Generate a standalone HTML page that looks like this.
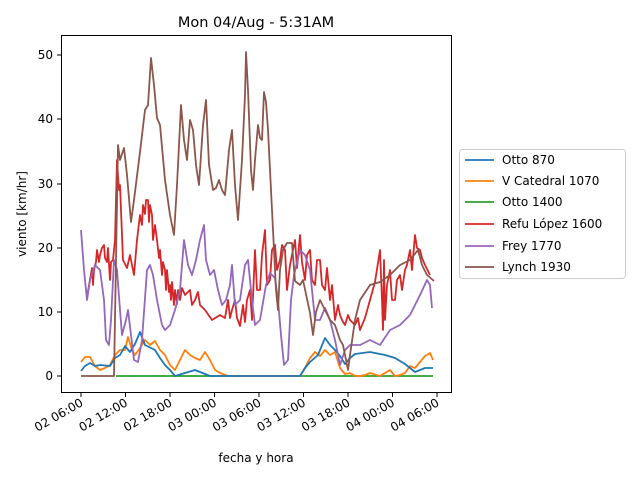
<!DOCTYPE html>
<html><head><meta charset="utf-8"><style>body{margin:0;background:#fff}svg{display:block;font-family:"DejaVu Sans","Liberation Sans",sans-serif}</style></head><body>
<svg width="640" height="480" viewBox="0 0 640 480">
<rect width="640" height="480" fill="#fff"/>
<text x="256" y="27" font-size="14.5" text-anchor="middle">Mon 04/Aug - 5:31AM</text>
<g fill="none" stroke-width="1.8" stroke-linejoin="round">
<polyline stroke="#2ca02c" points="116,376 433,376"/>
<polyline stroke="#ff7f0e" points="81,362 85,357 90,357 95,366 100,370 105,368 110,365 115,355 120,350 125,350 128,337 132,350 135,355 140,348 145,340 150,345 155,341 160,350 165,355 170,365 175,370 180,360 185,350 190,355 195,358 200,360 205,352 210,360 215,370 220,373 228,376 300,376 305,368 310,358 315,352 320,356 325,350 330,355 335,352 340,368 345,374 350,373 355,376 360,376 365,375 370,373 380,376 390,370 395,376 400,375 405,373 410,366 415,368 420,362 425,356 430,353 433,360"/>
<polyline stroke="#1f77b4" points="81,371 85,366 90,363 95,366 100,365 110,366 115,358 120,355 125,346 130,352 135,344 140,332 145,345 155,350 160,358 165,365 170,370 175,376 185,373 195,370 200,372 210,376 300,376 305,368 310,362 318,355 325,338 330,345 335,350 340,356 345,364 350,358 355,354 370,352 385,355 395,358 405,364 415,372 425,368 433,368"/>
<polyline stroke="#d62728" points="87,297 92,268 93,285 94,270 96,262 97,250 99,262 100,255 102,248 104,245 105,258 107,262 108,248 110,280 111,262 113,260 115,240 117,160 119,190 120,185 123,260 127,268 130,255 134,275 137,240 140,215 142,225 143,205 145,214 146,200 148,200 149,222 150,205 152,215 153,240 155,225 157,240 159,258 160,250 162,275 163,262 165,270 166,290 167,270 169,292 170,285 171,300 172,282 174,305 175,290 177,304 178,290 180,300 182,288 185,295 190,290 192,305 195,300 198,292 200,305 205,310 212,320 220,315 225,318 228,300 230,318 232,310 235,300 237,318 240,326 243,305 245,322 247,300 250,290 252,320 255,250 257,290 260,290 262,255 265,230 267,285 270,280 272,250 275,245 277,270 280,260 282,245 285,250 287,290 290,265 292,255 295,240 297,268 300,235 302,262 305,280 307,255 310,250 312,280 315,285 317,260 320,260 322,285 325,290 327,268 330,300 332,285 335,320 338,305 340,315 342,320 345,325 348,315 350,320 355,325 358,318 360,330 365,318 370,300 375,282 380,250 382,300 383,330 384,260 385,320 387,285 390,270 392,300 395,300 397,280 400,275 402,290 405,270 407,265 410,250 412,270 415,235 417,248 420,250 422,258 425,265 430,275"/>
<polyline stroke="#9467bd" points="81,230 84,270 87,300 90,280 95,265 100,270 104,300 106,340 109,345 111,320 114,260 117,270 120,310 122,335 126,320 128,310 131,335 134,360 138,362 142,340 147,270 150,265 153,275 157,300 162,325 165,330 170,325 175,310 180,290 184,240 188,265 192,275 196,260 200,240 204,225 206,260 210,275 214,270 218,290 222,305 226,300 230,285 232,265 235,305 240,300 245,265 248,260 252,300 255,325 260,320 266,285 270,273 275,278 278,300 281,335 284,365 288,360 291,300 294,275 300,250 305,255 310,270 315,320 320,320 325,308 330,320 335,340 340,365 345,350 350,345 360,345 370,340 380,345 390,330 400,325 410,315 420,295 427,280 430,285 432,308"/>
<polyline stroke="#8c564b" points="81,376 114,376 118,145 120,160 124,148 127,175 131,222 134,200 140,152 145,110 148,105 151,58 154,85 157,118 160,125 165,180 170,215 174,235 177,185 181,105 184,140 187,160 190,120 193,130 196,165 199,185 203,125 206,100 209,165 213,190 216,188 219,180 222,190 225,195 229,150 232,130 235,185 238,220 242,160 245,95 246,52 248,90 251,170 253,190 255,160 258,125 260,138 262,140 264,92 266,102 268,130 270,170 272,210 274,250 276,290 278,310 280,270 283,250 287,243 292,243 295,281 300,285 303,280 310,313 313,335 316,312 320,300 325,310 330,320 335,325 340,340 343,345 348,370 350,355 355,320 360,300 370,285 380,282 390,275 400,265 410,260 418,250 422,265 427,275 434,281"/>
</g>
<rect x="61.5" y="35.5" width="390" height="357" fill="none" stroke="#000" stroke-width="1"/>
<g stroke="#000" stroke-width="1">
<line x1="57" y1="376" x2="61" y2="376"/><line x1="57" y1="312" x2="61" y2="312"/><line x1="57" y1="248" x2="61" y2="248"/><line x1="57" y1="184" x2="61" y2="184"/><line x1="57" y1="119" x2="61" y2="119"/><line x1="57" y1="55" x2="61" y2="55"/>
<line x1="81" y1="393" x2="81" y2="397"/><line x1="125.5" y1="393" x2="125.5" y2="397"/><line x1="170" y1="393" x2="170" y2="397"/><line x1="214.5" y1="393" x2="214.5" y2="397"/><line x1="259" y1="393" x2="259" y2="397"/><line x1="303.5" y1="393" x2="303.5" y2="397"/><line x1="348" y1="393" x2="348" y2="397"/><line x1="392.5" y1="393" x2="392.5" y2="397"/><line x1="437" y1="393" x2="437" y2="397"/>
</g>
<g font-size="12" text-anchor="end">
<text x="53" y="380">0</text><text x="53" y="316">10</text><text x="53" y="252">20</text><text x="53" y="188">30</text><text x="53" y="123">40</text><text x="53" y="59">50</text>
</g>
<g font-size="12" text-anchor="end">
<text transform="translate(84,405) rotate(-30)">02 06:00</text>
<text transform="translate(128.5,405) rotate(-30)">02 12:00</text>
<text transform="translate(173,405) rotate(-30)">02 18:00</text>
<text transform="translate(217.5,405) rotate(-30)">03 00:00</text>
<text transform="translate(262,405) rotate(-30)">03 06:00</text>
<text transform="translate(306.5,405) rotate(-30)">03 12:00</text>
<text transform="translate(351,405) rotate(-30)">03 18:00</text>
<text transform="translate(395.5,405) rotate(-30)">04 00:00</text>
<text transform="translate(440,405) rotate(-30)">04 06:00</text>
</g>
<text x="256" y="462" font-size="12" text-anchor="middle">fecha y hora</text>
<text transform="translate(26,214) rotate(-90)" font-size="12" text-anchor="middle">viento [km/hr]</text>
<rect x="459.5" y="149.5" width="166" height="129" rx="3" fill="#fff" stroke="#ccc"/>
<g stroke-width="1.8">
<line x1="465" y1="160" x2="494" y2="160" stroke="#1f77b4"/>
<line x1="465" y1="181" x2="494" y2="181" stroke="#ff7f0e"/>
<line x1="465" y1="202" x2="494" y2="202" stroke="#2ca02c"/>
<line x1="465" y1="224" x2="494" y2="224" stroke="#d62728"/>
<line x1="465" y1="246" x2="494" y2="246" stroke="#9467bd"/>
<line x1="465" y1="267" x2="494" y2="267" stroke="#8c564b"/>
</g>
<g font-size="12">
<text x="502" y="164">Otto 870</text>
<text x="502" y="185">V Catedral 1070</text>
<text x="502" y="206">Otto 1400</text>
<text x="502" y="228">Refu López 1600</text>
<text x="502" y="250">Frey 1770</text>
<text x="502" y="271">Lynch 1930</text>
</g>
</svg>
</body></html>
